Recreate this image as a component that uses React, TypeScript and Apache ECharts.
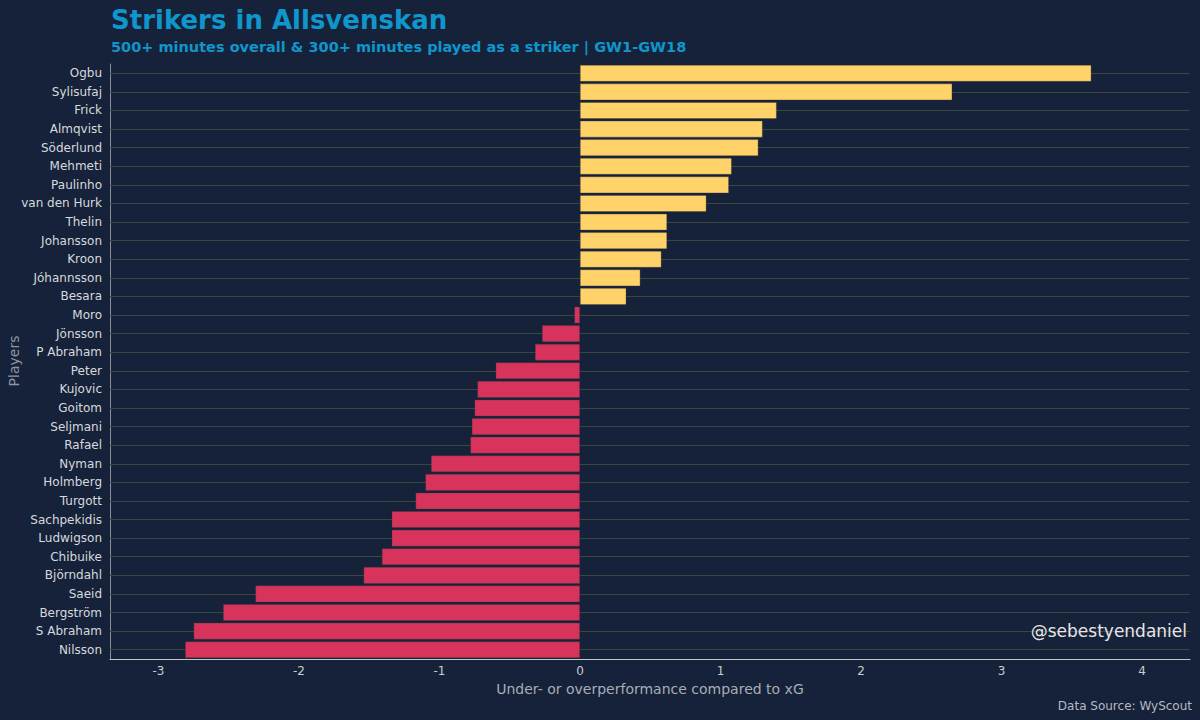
import React, { useEffect, useRef } from "react";
import * as echarts from "echarts";

const players = [
  "Ogbu", "Sylisufaj", "Frick", "Almqvist", "Söderlund", "Mehmeti", "Paulinho",
  "van den Hurk", "Thelin", "Johansson", "Kroon", "Jóhannsson", "Besara", "Moro",
  "Jönsson", "P Abraham", "Peter", "Kujovic", "Goitom", "Seljmani", "Rafael",
  "Nyman", "Holmberg", "Turgott", "Sachpekidis", "Ludwigson", "Chibuike",
  "Björndahl", "Saeid", "Bergström", "S Abraham", "Nilsson",
];

const values = [
  3.64, 2.65, 1.40, 1.30, 1.27, 1.08, 1.06, 0.90, 0.62, 0.62, 0.58, 0.43, 0.33,
  -0.04, -0.27, -0.32, -0.60, -0.73, -0.75, -0.77, -0.78, -1.06, -1.10, -1.17,
  -1.34, -1.34, -1.41, -1.54, -2.31, -2.54, -2.75, -2.81,
];

const xTicks = [-3, -2, -1, 0, 1, 2, 3, 4];

const FONT = "DejaVu Sans";

export default function App() {
  const ref = useRef<HTMLDivElement>(null);
  useEffect(() => {
    if (!ref.current) return;
    const chart = echarts.init(ref.current, null, { renderer: "svg" });
    chart.setOption({
      animation: false,
      backgroundColor: "#162239",
      textStyle: { fontFamily: FONT },
      title: {
        text: "Strikers in Allsvenskan",
        subtext: "500+ minutes overall & 300+ minutes played as a striker | GW1-GW18",
        left: 106,
        top: 2,
        itemGap: 6,
        textStyle: { color: "#0f96cc", fontSize: 26, fontWeight: "bold", fontFamily: FONT },
        subtextStyle: { color: "#0f96cc", fontSize: 14.5, fontWeight: "bold", fontFamily: FONT },
      },
      grid: {
        left: 110,
        right: 10,
        top: 64,
        bottom: 61,
        containLabel: false,
        outerBoundsMode: "none",
      },
      xAxis: {
        type: "value",
        min: -3.345,
        max: 4.342,
        name: "Under- or overperformance compared to xG",
        nameLocation: "middle",
        nameGap: 22,
        nameTextStyle: { color: "#a8adb6", fontSize: 14, fontFamily: FONT },
        axisLine: { show: true, onZero: false, lineStyle: { color: "#c4c6ca", width: 1 } },
        axisTick: { show: false },
        splitLine: { show: false },
        axisLabel: {
          color: "#c8ccd3",
          fontSize: 12,
          margin: 6,
          customValues: xTicks,
          fontFamily: FONT,
        },
      },
      yAxis: {
        type: "category",
        data: players,
        inverse: true,
        axisLine: { show: true, onZero: false, lineStyle: { color: "#8a8f98", width: 1 } },
        axisTick: { show: false },
        splitLine: { show: false },
        axisLabel: { color: "#d6d9de", fontSize: 12, margin: 8, fontFamily: FONT },
      },
      series: [
        {
          type: "line",
          data: [],
          z: 1,
          silent: true,
          markLine: {
            silent: true,
            symbol: ["none", "none"],
            z: 1,
            label: { show: false },
            lineStyle: { color: "#3c4641", width: 1, type: "solid" },
            emphasis: { disabled: true },
            data: players.map((_, i) => ({ yAxis: i })),
          },
        },
        {
          type: "bar",
          z: 3,
          data: values.map((v) => ({
            value: v,
            itemStyle: { color: v >= 0 ? "#ffd36a" : "#d8335c" },
          })),
          barCategoryGap: "10%",
          itemStyle: { borderColor: "rgba(60,60,60,0.6)", borderWidth: 0.6 },
        },
      ],
      graphic: [
        {
          type: "text",
          x: 14,
          y: 361,
          rotation: Math.PI / 2,
          style: {
            text: "Players",
            fill: "#8f96a2",
            fontSize: 14,
            fontFamily: FONT,
            align: "center",
            verticalAlign: "middle",
          },
        },
        {
          type: "text",
          right: 13,
          top: 622,
          style: {
            text: "@sebestyendaniel",
            fill: "#e6e6e6",
            fontSize: 17,
            fontFamily: FONT,
          },
          z: 10,
        },
        {
          type: "text",
          right: 8,
          top: 700,
          style: {
            text: "Data Source: WyScout",
            fill: "#b5b9c1",
            fontSize: 12,
            fontFamily: FONT,
          },
        },
      ],
    });
    return () => chart.dispose();
  }, []);
  return (
    <div
      ref={ref}
      style={{ position: "fixed", left: 0, top: 0, width: 1200, height: 720 }}
    />
  );
}
